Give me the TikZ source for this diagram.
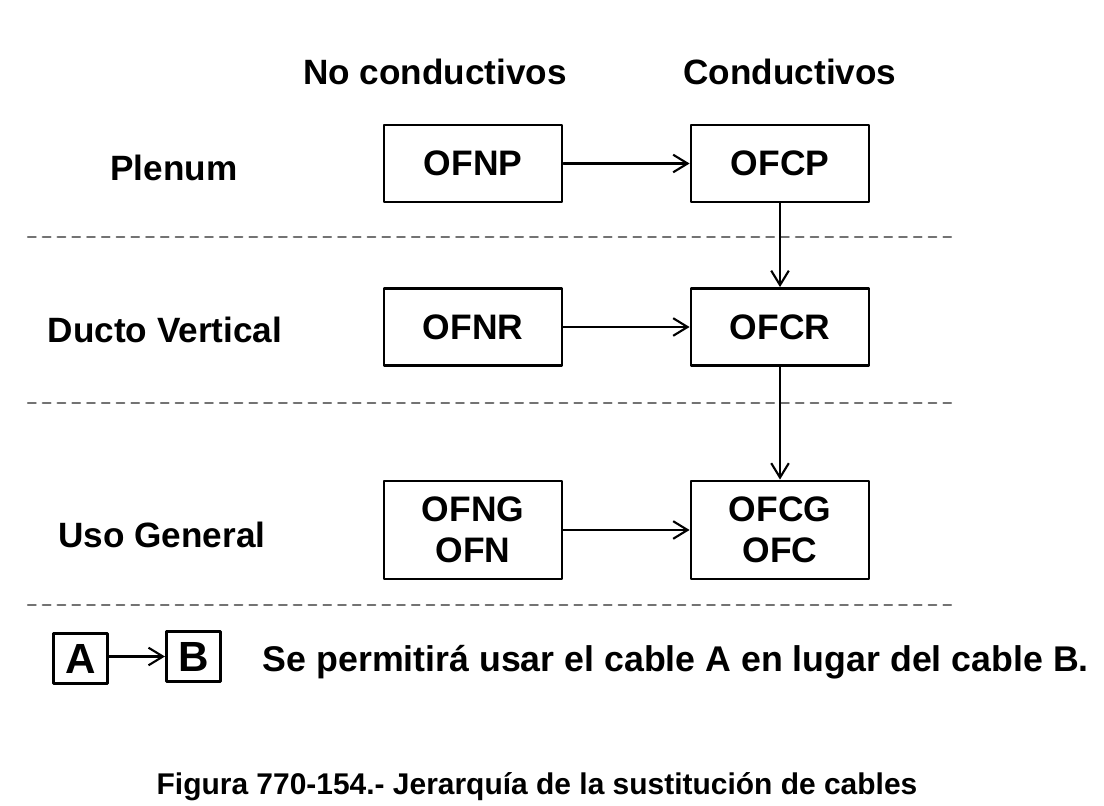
\documentclass[tikz,border=0pt]{standalone}
\usepackage{fontspec}
\setmainfont{Liberation Sans}
\usetikzlibrary{arrows.meta}
\begin{document}
\begin{tikzpicture}[x=0.025cm,y=-0.025cm,line cap=round,line join=round,
  box/.style={draw,line width=2pt,minimum width=4.45cm,minimum height=1.925cm,
    align=center,inner sep=0pt,font=\fontsize{25.2}{29}\selectfont\bfseries},
  tallbox/.style={box,minimum height=2.45cm},
  keybox/.style={draw,line width=2.2pt,minimum width=1.35cm,minimum height=1.25cm,
    inner sep=0pt,font=\fontsize{30}{32}\selectfont\bfseries},
  head/.style={font=\fontsize{25}{28}\selectfont\bfseries},
  sep/.style={dash pattern=on 5.5pt off 5pt,line width=1.5pt,black!55},
  link/.style={-{Straight Barb[length=0.36cm,width=0.44cm,line width=1.5pt]},line width=1.5pt}]
  \useasboundingbox (0,0) rectangle (1104,806);
  % encabezados de columna y de fila
  \node[head] (nocond) at (435,72) {No conductivos};
  \node[head] (cond) at (790,72) {Conductivos};
  \node[head] (plenum) at (174,168) {Plenum};
  \node[head] (ducto) at (165,330) {Ducto Vertical};
  \node[head] (uso) at (162,535) {Uso General};
  % cables
  \node[box] (ofnp) at (473,163.5) {OFNP};
  \node[box] (ofcp) at (780,163.5) {OFCP};
  \node[box] (ofnr) at (473,327) {OFNR};
  \node[box] (ofcr) at (780,327) {OFCR};
  \node[tallbox] (ofng) at (473,530) {OFNG\\OFN};
  \node[tallbox] (ofcg) at (780,530) {OFCG\\OFC};
  % separadores
  \draw[sep] (28,237) -- (958,237);
  \draw[sep] (28,403) -- (958,403);
  \draw[sep] (28,605) -- (958,605);
  % sustituciones
  \draw[link] (ofnp) -- (ofcp);
  \draw[link] (ofnr) -- (ofcr);
  \draw[link] (ofng) -- (ofcg);
  \draw[link] (ofcp) -- (ofcr);
  \draw[link] (ofcr) -- (ofcg);
  % leyenda
  \node[keybox] (ka) at (80.5,658.5) {A};
  \node[keybox] (kb) at (193.5,656.5) {B};
  \draw[link] (ka.east |- kb) -- (kb);
  \node[anchor=west,font=\fontsize{25.4}{28}\selectfont\bfseries] (nota) at (258,662)
    {Se permitirá usar el cable A en lugar del cable B.};
  \node[font=\fontsize{21.3}{24}\selectfont\bfseries] (pie) at (537,787)
    {Figura 770-154.- Jerarquía de la sustitución de cables};
\end{tikzpicture}
\end{document}
